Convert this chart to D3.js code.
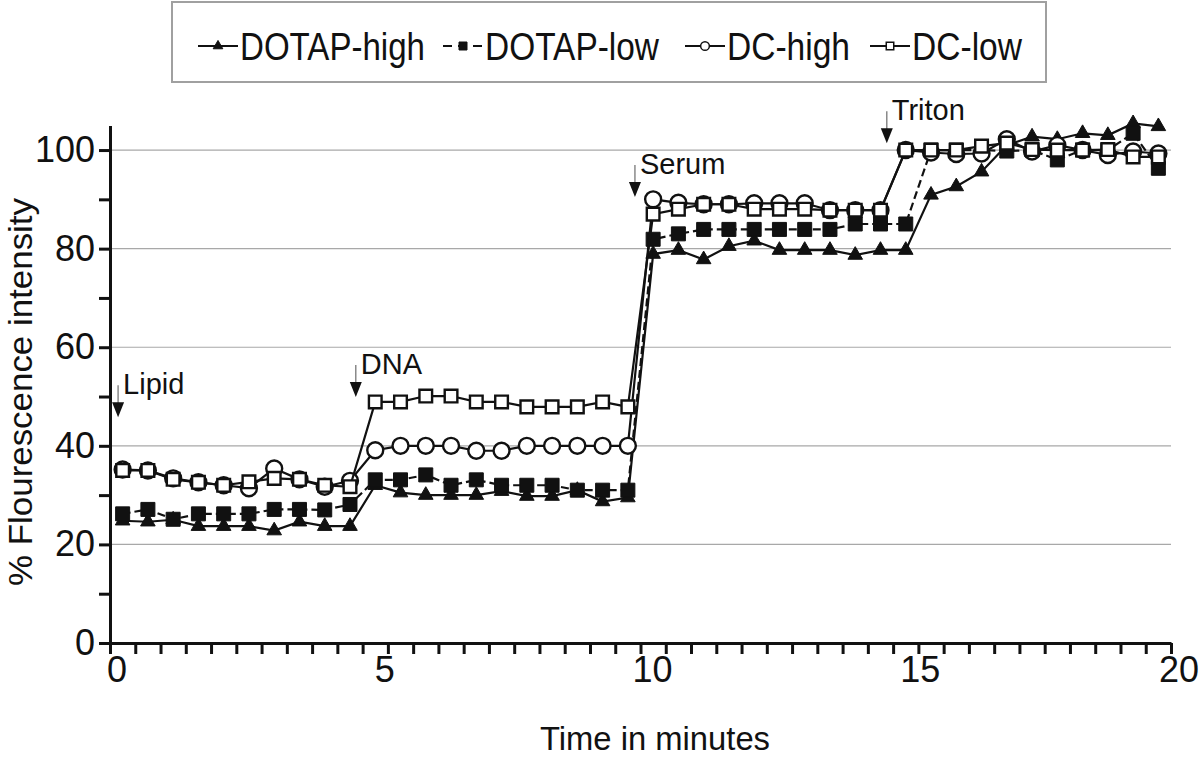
<!DOCTYPE html>
<html><head><meta charset="utf-8">
<script src="https://cdn.jsdelivr.net/npm/d3@7"></script>
<style>
body{margin:0;background:#fff}
svg{display:block}
text{font-family:"Liberation Sans",Arial,Helvetica,sans-serif;fill:#111}
</style>
</head><body>
<svg id="chart" width="1200" height="758"></svg>
<script>
// ---- data ----
const seriesNames = ["DOTAP-high", "DOTAP-low", "DC-high", "DC-low"];
const categories = d3.range(42); // reading index (≈0.48 min apart)
const dotapHigh = [24.8,24.6,25.0,23.7,23.7,23.7,22.8,24.6,23.7,23.7,
  32.0,30.5,30.0,30.0,30.0,30.8,29.8,29.8,31.0,28.7,29.5,
  78.9,79.7,77.8,80.5,81.6,79.7,79.7,79.7,78.7,79.7,79.7,
  90.9,92.6,95.6,101.0,102.7,102.2,103.4,103.0,105.4,104.8];
const dotapLow = [26.2,27.1,25.1,26.2,26.2,26.2,27.1,27.1,27.0,28.1,
  33.1,33.1,34.1,32.0,33.1,32.0,32.0,32.0,31.0,31.0,31.0,
  81.9,83.0,83.9,83.9,83.9,83.9,83.9,83.9,85.0,85.0,85.0,
  100.0,100.0,100.0,99.8,100.0,98.0,100.0,100.0,103.4,96.3];
const dcHigh = [35.2,35.0,33.4,32.6,32.0,31.4,35.4,33.2,31.7,32.9,
  39.1,40.0,40.0,40.0,39.0,39.0,40.0,40.0,40.0,40.0,40.0,
  90.0,89.3,89.0,89.0,89.2,89.2,89.2,87.8,87.8,87.8,
  100.0,99.5,99.2,99.3,102.2,99.7,101.0,100.0,99.0,99.7,99.3];
const dcLow = [35.0,35.0,33.2,32.6,32.0,32.7,33.4,33.2,32.0,31.7,
  48.9,48.9,50.1,50.1,48.9,48.9,47.9,47.9,47.9,48.9,47.9,
  87.0,88.0,89.0,89.0,88.0,88.0,88.0,87.8,87.8,87.8,
  100.0,100.0,100.0,100.8,101.4,100.1,100.0,100.0,100.1,98.6,98.6];
const xTickLabels = [0, 5, 10, 15, 20];
const yTicks = [0, 10, 20, 30, 40, 50, 60, 70, 80, 90, 100];
const yGrid = [20, 40, 60, 80, 100];
const eventNames = ["Lipid", "DNA", "Serum", "Triton"];
const eventIndex = [0.32, 9.73, 20.78, 30.75];
const eventValue = [45.8, 49.9, 90.5, 101.4];

// ---- scales ----
const svg = d3.select("#chart");
const xIdx = d3.scaleLinear().domain([0, 42]).range([110, 1171]);
const xTime = d3.scaleLinear().domain([0, 20]).range([117, 1188]);
const y = d3.scaleLinear().domain([0, 105]).range([643, 125.4]);

// gridlines
svg.append("g").selectAll("line").data(yGrid).join("line")
  .attr("x1", xIdx(0)).attr("x2", xIdx(42))
  .attr("y1", d => y(d)).attr("y2", d => y(d))
  .attr("stroke", "#a8a8a8").attr("stroke-width", 1.2);

// axes
const xAxis = svg.append("g").attr("transform", `translate(0,${y(0)})`)
  .call(d3.axisBottom(xIdx).tickValues(d3.range(43)).tickFormat("").tickSize(11).tickSizeOuter(0));
const yAxis = svg.append("g").attr("transform", `translate(${xIdx(0)},0)`)
  .call(d3.axisLeft(y).tickValues(yTicks).tickFormat(d => d % 20 === 0 ? d : "").tickSize(11).tickSizeOuter(0).tickPadding(4));
[xAxis, yAxis].forEach(g => {
  g.select(".domain").attr("stroke", "#111").attr("stroke-width", 3);
  g.selectAll(".tick line").attr("stroke", "#111").attr("stroke-width", 3);
});
yAxis.selectAll(".tick text").attr("font-size", 36).attr("fill", "#111")
  .attr("font-family", "Liberation Sans, Arial, sans-serif");

const xl = svg.append("g").selectAll("text").data(xTickLabels).join("text")
  .attr("y", 682).attr("text-anchor", "middle").attr("font-size", 36).text(d => d);
xl.attr("x", function(d) {
  const half = this.getComputedTextLength() / 2;
  return Math.min(xTime(d), 1199 - half);
});

// axis titles
svg.append("text").attr("transform", "translate(32,392) rotate(-90)")
  .attr("text-anchor", "middle").attr("font-size", 34)
  .attr("textLength", 388).attr("lengthAdjust", "spacingAndGlyphs")
  .text("% Flourescence intensity");
svg.append("text").attr("x", 655).attr("y", 750)
  .attr("text-anchor", "middle").attr("font-size", 34)
  .attr("textLength", 230).attr("lengthAdjust", "spacingAndGlyphs")
  .text("Time in minutes");

// series
const series = [
  {name: seriesNames[0], values: dotapHigh, shape: d3.symbolTriangle, size: 92, legendSize: 40, fill: "#111", dash: null, lw: 185},
  {name: seriesNames[1], values: dotapLow, shape: d3.symbolSquare, size: 196, legendSize: 64, fill: "#111", dash: "8,4", lw: 174},
  {name: seriesNames[2], values: dcHigh, shape: d3.symbolCircle, size: 200, legendSize: 60, fill: "#fff", dash: null, lw: 123},
  {name: seriesNames[3], values: dcLow, shape: d3.symbolSquare, size: 160, legendSize: 56, fill: "#fff", dash: null, lw: 110}
];
const line = d3.line().x((d, i) => xIdx(categories[i] + 0.5)).y(d => y(d));
series.forEach(s => {
  const g = svg.append("g");
  g.append("path").attr("d", line(s.values)).attr("fill", "none")
    .attr("stroke", "#111").attr("stroke-width", 2.2)
    .attr("stroke-dasharray", s.dash);
  g.selectAll("path.m").data(s.values).join("path").attr("class", "m")
    .attr("d", d3.symbol().type(s.shape).size(s.size))
    .attr("transform", (d, i) => `translate(${xIdx(categories[i] + 0.5)},${y(d)})`)
    .attr("fill", s.fill).attr("stroke", "#111").attr("stroke-width", s.fill === "#fff" ? 2.4 : 1);
});

// event arrows
eventNames.forEach((name, k) => {
  const ax = xIdx(eventIndex[k]), ay = y(eventValue[k]);
  svg.append("line").attr("x1", ax).attr("x2", ax).attr("y1", ay - 32).attr("y2", ay - 12)
    .attr("stroke", "#777").attr("stroke-width", 1.3);
  svg.append("path").attr("d", `M${ax - 6},${ay - 15}L${ax + 6},${ay - 15}L${ax},${ay}Z`).attr("fill", "#111");
  svg.append("text").attr("x", ax + 5).attr("y", ay - 23).attr("font-size", 29).text(name);
});

// legend
const lg = svg.append("g");
lg.append("rect").attr("x", 172).attr("y", 2).attr("width", 874).attr("height", 80)
  .attr("fill", "#fff").attr("stroke", "#a0a0a0").attr("stroke-width", 2);
const legendX = [198, 443, 685, 870];
series.forEach((s, k) => {
  const x0 = legendX[k], cy = 46;
  lg.append("line").attr("x1", x0).attr("x2", x0 + 40).attr("y1", cy).attr("y2", cy)
    .attr("stroke", "#111").attr("stroke-width", 2).attr("stroke-dasharray", s.dash ? "9,6" : null);
  lg.append("path").attr("d", d3.symbol().type(s.shape).size(s.legendSize))
    .attr("transform", `translate(${x0 + 20},${cy})`)
    .attr("fill", s.fill).attr("stroke", "#111").attr("stroke-width", s.fill === "#fff" ? 1.5 : 1);
  lg.append("text").attr("x", x0 + 42).attr("y", cy + 14).attr("font-size", 38)
    .attr("textLength", s.lw).attr("lengthAdjust", "spacingAndGlyphs").text(s.name);
});
</script>
</body></html>
